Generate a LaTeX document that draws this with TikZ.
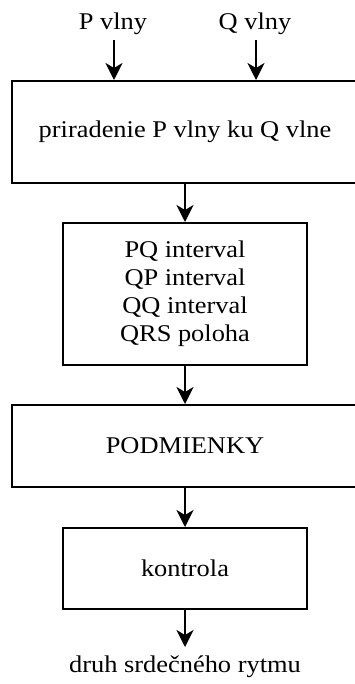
\documentclass[tikz,border=0pt]{standalone}
\usepackage{fontspec}
\setmainfont[FakeStretch=1.1]{Liberation Serif}
\usetikzlibrary{arrows.meta}
\begin{document}
\begin{tikzpicture}[x=1pt,y=-1pt,
  blk/.style={draw,line width=2pt,inner sep=0pt},
  lbl/.style={font=\fontsize{24}{28}\selectfont,align=center,inner sep=0pt},
  flow/.style={line width=2pt,-{Stealth[length=17pt,width=17pt,inset=5pt]}}]
\useasboundingbox (0,0) rectangle (354,684);
% input labels
\node[lbl] (pin) at (113,24) {P vlny};
\node[lbl] (qin) at (255,24) {Q vlny};
\coordinate (pst) at (114,40);
\coordinate (qst) at (256,40);
% blocks
\node[blk,minimum width=346pt,minimum height=102pt] (b1) at (185,132) {};
\node[lbl] (t1) at (b1) {priradenie P vlny ku Q vlne};
\node[blk,minimum width=244pt,minimum height=142pt] (b2) at (185,294) {};
\node[lbl] (t2) at (b2) {PQ interval\\QP interval\\QQ interval\\QRS poloha};
\node[blk,minimum width=346pt,minimum height=82pt] (b3) at (185,446) {};
\node[lbl] (t3) at (b3) {PODMIENKY};
\node[blk,minimum width=244pt,minimum height=81pt] (b4) at (185,568.5) {};
\node[lbl] (t4) at (b4) {kontrola};
\coordinate (end) at (185,647);
\node[lbl] (out) at (185,667) {druh srdečného rytmu};
% connectors
\draw[flow] (pst) -- (pst |- b1.north);
\draw[flow] (qst) -- (qst |- b1.north);
\draw[flow] (b1.south) -- (b2.north);
\draw[flow] (b2.south) -- (b3.north);
\draw[flow] (b3.south) -- (b4.north);
\draw[flow] (b4.south) -- (end);
\end{tikzpicture}
\end{document}
